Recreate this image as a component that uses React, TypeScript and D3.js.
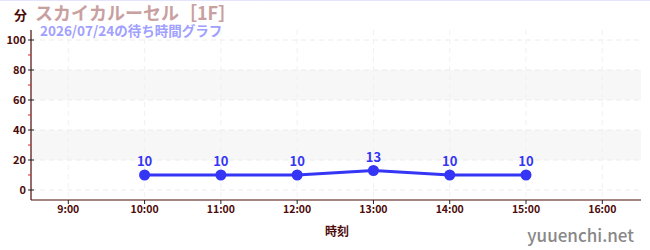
import React from "react";
import * as d3 from "d3";

const hours = [10, 11, 12, 13, 14, 15];
const waits = [10, 10, 10, 13, 10, 10];
const xTicks = [9, 10, 11, 12, 13, 14, 15, 16];
const yTicks = [0, 20, 40, 60, 80, 100];
const yMinor = [10, 30, 50, 70, 90];
const bands = [[20, 40], [60, 80]];
const title = "スカイカルーセル［1F］";
const subtitle = "2026/07/24の待ち時間グラフ";

const W = 650, H = 250;
const L = 31, R = 641, T = 30, B = 200;
const FONT = "'Noto Sans CJK JP', 'Noto Sans', sans-serif";
const DARK = "#4d0a0a";
const BLUE = "#3535f5";

export default function App() {
  const x = d3.scaleLinear().domain([9, 16]).range([68.3, 602.3]);
  const y = d3.scaleLinear().domain([0, 100]).range([190, 40]);
  const line = d3.line<number>().x((_, i) => x(hours[i])).y((d) => y(d));
  return (
    <svg width={W} height={H} style={{ position: "absolute", left: 0, top: 0 }} fontFamily={FONT}>
      <rect x={0} y={0} width={W} height={H} fill="#fff" />
      <line x1={0} x2={W} y1={0.5} y2={0.5} stroke="#e4e4ff" strokeWidth={1} />
      {bands.map(([a, b], i) => (
        <rect key={i} x={L} y={y(b)} width={R - L} height={y(a) - y(b)} fill="#f7f7f7" />
      ))}
      {yTicks.map((t) => (
        <line key={"gy" + t} x1={L} x2={R} y1={y(t)} y2={y(t)} stroke="#ececec" strokeDasharray="5,4" />
      ))}
      {xTicks.map((t) => (
        <line key={"gx" + t} x1={x(t)} x2={x(t)} y1={T} y2={B} stroke="#f0f0f0" strokeDasharray="5,4" />
      ))}
      <line x1={L} x2={L} y1={T} y2={B} stroke={DARK} strokeWidth={1.2} />
      <line x1={L} x2={R} y1={B} y2={B} stroke={DARK} strokeWidth={1.2} />
      {yTicks.map((t) => (
        <g key={"yt" + t}>
          <line x1={L - 3} x2={L + 3} y1={y(t)} y2={y(t)} stroke="#222" />
          <text x={L - 5} y={y(t)} dy="0.35em" textAnchor="end" fontSize={11} fontWeight="bold" fill={DARK}>{t}</text>
        </g>
      ))}
      {yMinor.map((t) => (
        <line key={"ym" + t} x1={L - 3} x2={L} y1={y(t)} y2={y(t)} stroke="#e02020" />
      ))}
      {xTicks.map((t) => (
        <g key={"xt" + t}>
          <line x1={x(t)} x2={x(t)} y1={B} y2={B + 4} stroke="#222" />
          <text x={x(t)} y={213} textAnchor="middle" fontSize={10.5} fontWeight="bold" fill={DARK}>{`${t}:00`}</text>
        </g>
      ))}
      <text x={337} y={236} textAnchor="middle" fontSize={12} fontWeight="bold" fill={DARK}>時刻</text>
      <path d={line(waits) || ""} fill="none" stroke={BLUE} strokeWidth={3} />
      {waits.map((v, i) => (
        <g key={"p" + i}>
          <circle cx={x(hours[i])} cy={y(v)} r={5.5} fill={BLUE} />
          <text x={x(hours[i])} y={y(v) - 9} textAnchor="middle" fontSize={13} fontWeight="bold" fill={BLUE}>{v}</text>
        </g>
      ))}
      <text x={14} y={20} fontSize={13} fontWeight="bold" fill={DARK}>分</text>
      <text x={35} y={20} fontSize={18} fontWeight="bold" fill="#c9a0a0">{title}</text>
      <text x={40} y={35.5} fontSize={13.5} fontWeight="bold" fill="#a0a0ff">{subtitle}</text>
      <text x={634} y={242} textAnchor="end" fontSize={17} fontWeight={500} fill="#888">yuuenchi.net</text>
    </svg>
  );
}
